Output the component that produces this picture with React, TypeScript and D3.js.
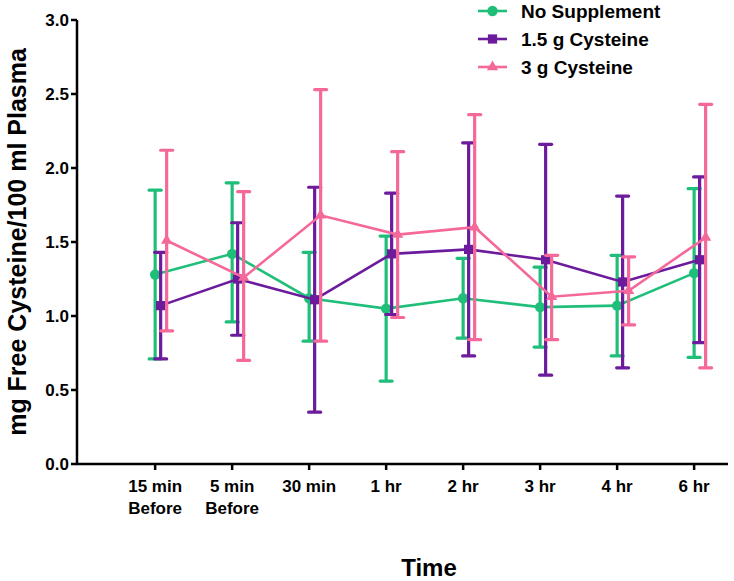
import React from "react";
import * as d3 from "d3";

const categories = ["15 min|Before", "5 min|Before", "30 min", "1 hr", "2 hr", "3 hr", "4 hr", "6 hr"];
const seriesNames = ["No Supplement", "1.5 g Cysteine", "3 g Cysteine"];

const noSuppMean = [1.28, 1.42, 1.12, 1.05, 1.12, 1.06, 1.07, 1.29];
const noSuppHigh = [1.85, 1.90, 1.43, 1.54, 1.39, 1.33, 1.41, 1.86];
const noSuppLow = [0.71, 0.96, 0.83, 0.56, 0.85, 0.79, 0.73, 0.72];

const cys15Mean = [1.07, 1.25, 1.11, 1.42, 1.45, 1.38, 1.23, 1.38];
const cys15High = [1.43, 1.63, 1.87, 1.83, 2.17, 2.16, 1.81, 1.94];
const cys15Low = [0.71, 0.87, 0.35, 1.01, 0.73, 0.60, 0.65, 0.82];

const cys3Mean = [1.51, 1.26, 1.68, 1.55, 1.60, 1.13, 1.17, 1.53];
const cys3High = [2.12, 1.84, 2.53, 2.11, 2.36, 1.41, 1.40, 2.43];
const cys3Low = [0.90, 0.70, 0.83, 0.99, 0.84, 0.84, 0.94, 0.65];

const yTicks = [0, 0.5, 1.0, 1.5, 2.0, 2.5, 3.0];

const colors = ["#1fbf7a", "#6c1b9c", "#f5699a"];
const offsets = [0, 5.5, 11.5];
const shapes = [d3.symbolCircle, d3.symbolSquare, d3.symbolTriangle];
const symSizes = [85, 85, 55];

const W = 734;
const H = 581;
const FONT = "'Liberation Sans', Arial, Helvetica, sans-serif";

export default function App() {
  const x = d3.scaleLinear().domain([-1.015, 7.44]).range([77, 728]);
  const y = d3.scaleLinear().domain([0, 3]).range([464, 20]);

  const series = [
    { mean: noSuppMean, hi: noSuppHigh, lo: noSuppLow },
    { mean: cys15Mean, hi: cys15High, lo: cys15Low },
    { mean: cys3Mean, hi: cys3High, lo: cys3Low },
  ];

  const line = d3
    .line<number>()
    .x((_, i) => x(i))
    .y((d) => y(d));

  return (
    <svg width={W} height={H} style={{ position: "absolute", left: 0, top: 0, background: "#fff" }} fontFamily={FONT}>
      <rect x={0} y={0} width={W} height={H} fill="#fff" />
      {/* data */}
      {series.map((s, si) => (
        <g key={si} transform={`translate(${offsets[si]},0)`}>
          {s.mean.map((m, i) => (
            <g key={i} stroke={colors[si]} strokeWidth={3.2}>
              <line x1={x(i)} x2={x(i)} y1={y(s.hi[i])} y2={y(s.lo[i])} />
              <line x1={x(i) - 6} x2={x(i) + 6} y1={y(s.hi[i])} y2={y(s.hi[i])} strokeLinecap="round" />
              <line x1={x(i) - 6} x2={x(i) + 6} y1={y(s.lo[i])} y2={y(s.lo[i])} strokeLinecap="round" />
            </g>
          ))}
          <path d={line(s.mean) || ""} fill="none" stroke={colors[si]} strokeWidth={2.6} />
          {s.mean.map((m, i) => (
            <path
              key={i}
              d={d3.symbol().type(shapes[si]).size(symSizes[si])() || ""}
              transform={`translate(${x(i)},${y(m)})`}
              fill={colors[si]}
            />
          ))}
        </g>
      ))}
      {/* y axis */}
      <line x1={77} x2={77} y1={y(3)} y2={y(0)} stroke="#000" strokeWidth={2.5} />
      {yTicks.map((t) => (
        <g key={t}>
          <line x1={71} x2={77} y1={y(t)} y2={y(t)} stroke="#000" strokeWidth={2.5} />
          <text x={69} y={y(t)} dy="0.35em" textAnchor="end" fontSize={17} fontWeight="bold">
            {d3.format(".1f")(t)}
          </text>
        </g>
      ))}
      {/* x axis */}
      <line x1={76} x2={728} y1={464} y2={464} stroke="#000" strokeWidth={2.5} />
      {categories.map((c, i) => (
        <g key={i}>
          <line x1={x(i)} x2={x(i)} y1={464} y2={470} stroke="#000" strokeWidth={2.5} />
          {c.split("|").map((ln, li) => (
            <text key={li} x={x(i)} y={492 + li * 21.5} textAnchor="middle" fontSize={17} fontWeight="bold">
              {ln}
            </text>
          ))}
        </g>
      ))}
      {/* axis titles */}
      <text x={429} y={576} textAnchor="middle" fontSize={24} fontWeight="bold">
        Time
      </text>
      <text
        transform={`translate(26,${y(1.5)}) rotate(-90)`}
        textAnchor="middle"
        fontSize={25}
        fontWeight="bold"
      >
        mg Free Cysteine/100 ml Plasma
      </text>
      {/* legend */}
      {seriesNames.map((n, si) => {
        const ly = 11 + si * 28;
        return (
          <g key={n}>
            <line x1={478} x2={507} y1={ly} y2={ly} stroke={colors[si]} strokeWidth={2.6} />
            <path
              d={d3.symbol().type(shapes[si]).size(symSizes[si])() || ""}
              transform={`translate(492.5,${ly})`}
              fill={colors[si]}
            />
            <text x={521} y={ly} dy="0.36em" fontSize={19} fontWeight="bold">
              {n}
            </text>
          </g>
        );
      })}
    </svg>
  );
}
